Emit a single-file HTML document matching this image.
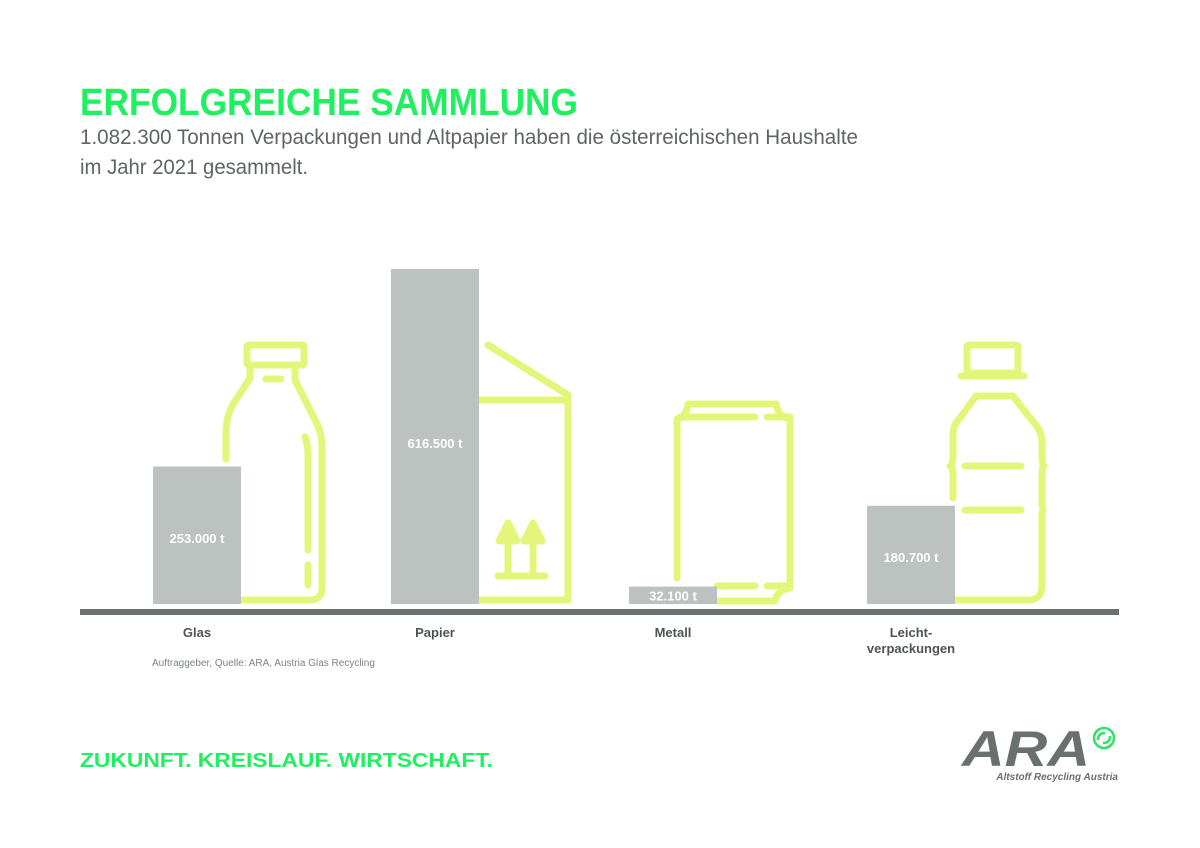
<!DOCTYPE html>
<html><head><meta charset="utf-8"><style>
html,body{margin:0;padding:0;background:#fff;}
svg{display:block;font-family:"Liberation Sans",sans-serif;}
</style></head><body>
<svg id="chart" width="1200" height="848" viewBox="0 0 1200 848">
<text x="80" y="115" font-size="38" font-weight="bold" fill="#1ef060" textLength="498" lengthAdjust="spacingAndGlyphs">ERFOLGREICHE SAMMLUNG</text>
<text x="80" y="144" font-size="21" fill="#5f6464" textLength="778" lengthAdjust="spacingAndGlyphs">1.082.300 Tonnen Verpackungen und Altpapier haben die österreichischen Haushalte</text>
<text x="80" y="174" font-size="21" fill="#5f6464" textLength="228" lengthAdjust="spacingAndGlyphs">im Jahr 2021 gesammelt.</text>

<g fill="none" stroke="#e4f67a" stroke-width="7" stroke-linecap="round" stroke-linejoin="round">
 <g>
  <rect x="247" y="345" width="57" height="20" rx="2"/>
  <path d="M226 459 V432 Q226 418 232 406 L250 378 V367"/>
  <path d="M295 367 V380 L315 420 Q322 432 322 448 V588 Q322 600 310 600 H241"/>
  <path d="M266 379 H281"/>
  <path d="M305 437 Q308 445 308 455 V550"/>
  <path d="M308 565 V585"/>
 </g>
 <g>
  <path d="M488 345 L568 395 V600 H479"/>
  <path d="M479 400 H566"/>
  <path d="M498 576 H545"/>
  <path d="M508 574 V545 M533 574 V545"/>
  <path d="M499 541 L508 523 L517 541 Z M524 541 L533 523 L542 541 Z" fill="#e4f67a"/>
 </g>
 <g>
  <path d="M677 578 V419 Q686 417 688 404 H776 Q778 417 790 419 V584"/>
  <path d="M680 417 H755 M767 417 H790"/>
  <path d="M717 586 H755 M767 586 H790"/>
  <path d="M717 601 H775 Q777 590 790 588"/>
 </g>
 <g>
  <rect x="967" y="345" width="51" height="28" rx="2"/>
  <path d="M961 376 H1024"/>
  <path d="M953 498 V475 Q953 467 950 466 Q953 465 953 455 V435 Q953 425 960 418 L976 396 H1013 L1030 418 Q1042 430 1042 442 V455 Q1042 465 1044 466 Q1042 468 1042 474 V505 Q1044 510 1042 512 Q1042 515 1042 520 V585 Q1042 600 1028 600 H955"/>
  <path d="M965 466 H1021 M965 510 H1021"/>
 </g>
</g>

<g id="bars"></g>
<rect x="80" y="609" width="1039" height="6" fill="#6a6f6f"/>
<g id="labels" font-size="13" font-weight="bold" fill="#4e5454" text-anchor="middle"></g>

<text x="152" y="666" font-size="10" fill="#7c8282">Auftraggeber, Quelle: ARA, Austria Glas Recycling</text>
<text x="80" y="767" font-size="20" font-weight="bold" fill="#1ef060" textLength="413" lengthAdjust="spacingAndGlyphs">ZUKUNFT. KREISLAUF. WIRTSCHAFT.</text>

<g>
 <text x="962" y="766" font-size="50" font-weight="bold" font-style="italic" fill="#6a6f6f" textLength="128" lengthAdjust="spacingAndGlyphs">ARA</text>
 <circle cx="1104" cy="738" r="10" fill="#fff" stroke="#2de36a" stroke-width="2.5"/>
 <path d="M1098 740 Q1098 733 1105 733 M1110 736 Q1110 743 1103 743" stroke="#2de36a" stroke-width="2.5" fill="none"/>
 <text x="1118" y="780" font-size="10" font-weight="bold" font-style="italic" fill="#6a6f6f" text-anchor="end">Altstoff Recycling Austria</text>
</g>

<script>
const categories = ["Glas", "Papier", "Metall", "Leicht-|verpackungen"];
const values = [253000, 616500, 32100, 180700];
const valueLabels = ["253.000 t", "616.500 t", "32.100 t", "180.700 t"];

const NS = "http://www.w3.org/2000/svg";
const baseY = 604, barW = 88;
function yScale(v){ return baseY - v / 1840; }
function xScale(i){ return 153 + i * 238; }
const bars = document.getElementById("bars");
const labels = document.getElementById("labels");
values.forEach((v, i) => {
  const x = xScale(i), y = yScale(v);
  const r = document.createElementNS(NS, "rect");
  r.setAttribute("x", x); r.setAttribute("y", y);
  r.setAttribute("width", barW); r.setAttribute("height", baseY - y);
  r.setAttribute("fill", "#bcc2c0");
  
  
  bars.appendChild(r);
  const t = document.createElementNS(NS, "text");
  const h = baseY - y;
  t.setAttribute("x", x + barW / 2);
  t.setAttribute("y", h < 30 ? y + h / 2 + 5 : y + h * 0.52 + 5);
  t.setAttribute("text-anchor", "middle");
  t.setAttribute("font-size", "13");
  t.setAttribute("font-weight", "bold");
  t.setAttribute("fill", "#fff");
  t.textContent = valueLabels[i];
  
  
  bars.appendChild(t);
  const parts = categories[i].split("|");
  parts.forEach((p, j) => {
    const c = document.createElementNS(NS, "text");
    c.setAttribute("x", x + barW / 2);
    c.setAttribute("y", 637 + j * 16);
    c.textContent = p;
    
    
    labels.appendChild(c);
  });
});
</script>
</svg>
</body></html>
